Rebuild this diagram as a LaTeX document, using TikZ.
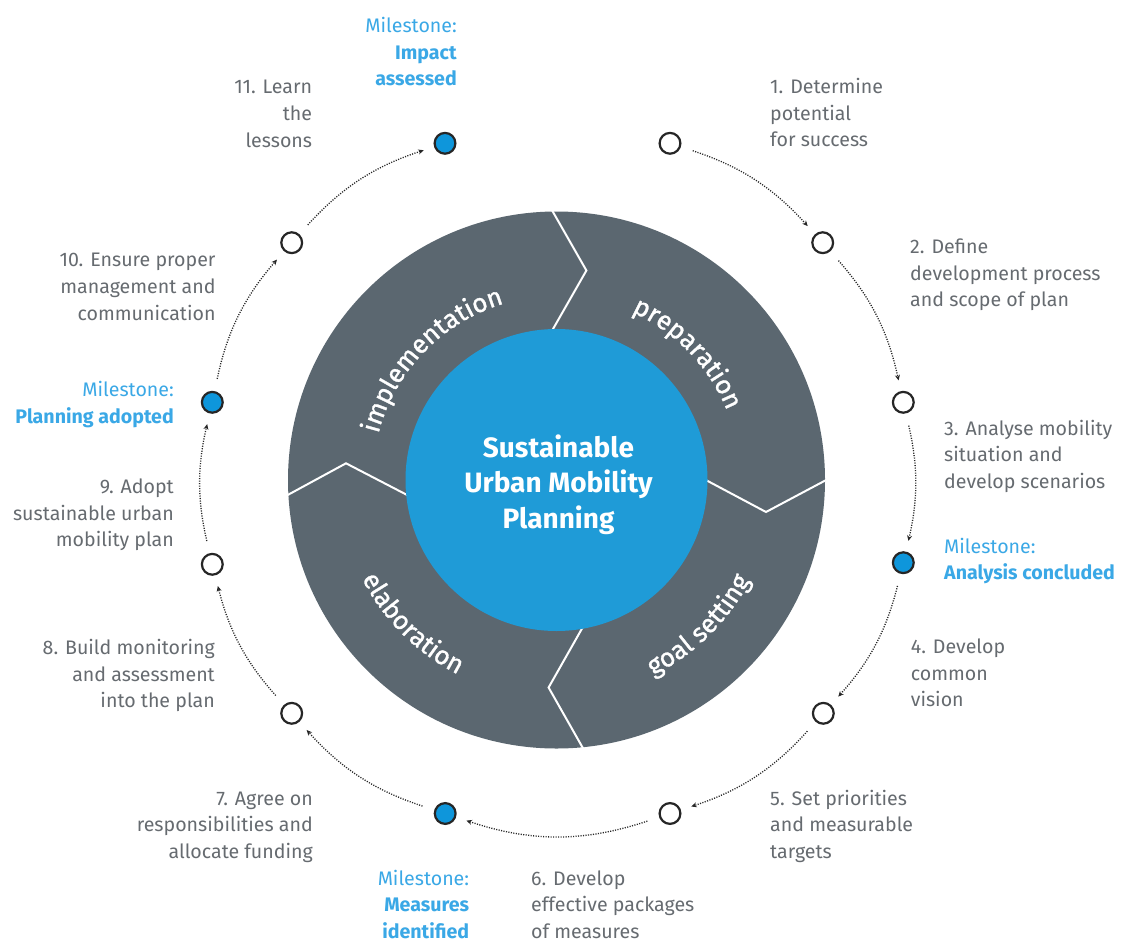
\documentclass[tikz,border=0pt]{standalone}
\usepackage{fontspec}
\setmainfont{Fira Sans}
\newfontfamily\phasefamily{Fira Sans}[FakeBold=1.2]
\usetikzlibrary{arrows.meta,decorations.text}

\definecolor{ringgray}{HTML}{5B6770}
\definecolor{hubblue}{HTML}{1F9BD7}
\definecolor{dotblue}{HTML}{0E96DB}
\definecolor{stoneblue}{HTML}{3AA8E6}
\definecolor{labelgray}{HTML}{666B70}
\definecolor{dotline}{HTML}{262626}

\newcommand\labelfont{\fontsize{19.6}{26.7}\selectfont}
\newcommand\phasefont{\phasefamily\fontsize{26}{30}\selectfont}
\newcommand\hubfont{\fontsize{28}{35.5}\selectfont\bfseries}

\tikzset{
  stepdot/.style={circle, draw=dotline, line width=2.2pt, fill=white,
    minimum size=20.8pt, inner sep=0pt, outer sep=1pt},
  stonedot/.style={stepdot, fill=dotblue},
  flow/.style={draw=dotline, line width=1.3pt, dash pattern=on 1.1pt off 1.4pt,
    -{Stealth[length=5.5pt,width=5pt]}, shorten >=11pt, shorten <=12.5pt},
  steplabel/.style={text=labelgray, font=\labelfont, inner sep=0pt},
  stonelabel/.style={text=stoneblue, font=\labelfont, inner sep=0pt},
  divider/.style={draw=white, line width=2pt},
  phase/.style={decorate, decoration={text along path, text align=center,
    text color=white, text={|\phasefont|#1}}},
}

\begin{document}
\begin{tikzpicture}[x=1pt, y=1pt]
  \fill[white] (0,-939) rectangle (1126,0);
  \useasboundingbox (0,-939) rectangle (1126,0);

  \coordinate (C) at (556.5,-480);

  % phase ring
  \fill[ringgray] (C) circle[radius=268.5];
  \draw[divider] (551.3,-209) -- (586.4,-270.5) -- (551.3,-332);
  \draw[divider] (829,-478.5) -- (766,-512) -- (703,-478.5);
  \draw[divider] (584,-750) -- (548.6,-687.5) -- (584,-625);
  \draw[divider] (284,-497) -- (346,-463.3) -- (411,-497);

  % phase names
  \path[phase={implementation}] ([shift={(176:184)}]C) arc[start angle=176, end angle=96, radius=184];
  \path[phase={preparation}] ([shift={(84:184)}]C) arc[start angle=84, end angle=4, radius=184];
  \path[phase={goal setting}] ([shift={(-85.6:218)}]C) arc[start angle=-85.6, end angle=-5.6, radius=218];
  \path[phase={elaboration}] ([shift={(185:218)}]C) arc[start angle=185, end angle=265, radius=218];

  % hub
  \node[circle, fill=hubblue, minimum size=302pt, inner sep=0pt] (hub) at (C) {};
  \node[anchor=base, text=white, font=\hubfont, align=center, inner sep=0pt]
    (hubtext) at (558.5,-528) {Sustainable\\Urban Mobility\\Planning};

  % cycle of steps and milestones
  \node[stonedot] (mT)  at (445,-143.3) {};
  \node[stepdot]  (d1)  at (670,-143.3) {};
  \node[stepdot]  (d2)  at (822.7,-242.7) {};
  \node[stepdot]  (d3)  at (903.3,-402.3) {};
  \node[stonedot] (mR)  at (903.3,-562.7) {};
  \node[stepdot]  (d4)  at (823.3,-713.3) {};
  \node[stepdot]  (d5)  at (670,-813.5) {};
  \node[stonedot] (mB)  at (445.2,-813.5) {};
  \node[stepdot]  (d7)  at (291.7,-713.3) {};
  \node[stepdot]  (d9)  at (212.3,-564.3) {};
  \node[stonedot] (mL)  at (212.3,-402.3) {};
  \node[stepdot]  (d10) at (291.7,-242.7) {};

  \draw[flow] (d1)  to[bend left=14.9] (d2);
  \draw[flow] (d2)  to[bend left=14.6] (d3);
  \draw[flow] (d3)  to[bend left=13.1] (mR);
  \draw[flow] (mR)  to[bend left=13.9] (d4);
  \draw[flow] (d4)  to[bend left=15]   (d5);
  \draw[flow] (d5)  to[bend left=18.5] (mB);
  \draw[flow] (mB)  to[bend left=15]   (d7);
  \draw[flow] (d7)  to[bend left=13.8] (d9);
  \draw[flow] (d9)  to[bend left=13.2] (mL);
  \draw[flow] (mL)  to[bend left=14.6] (d10);
  \draw[flow] (d10) to[bend left=14.9] (mT);

  % step texts (placed by the baseline of their last line)
  \node[steplabel, anchor=base west, align=left] (s1) at (770,-146.7)
    {1. Determine\\potential\\for success};
  \node[steplabel, anchor=base west, align=left] (s2) at (910,-306.7)
    {2. Define\\development process\\and scope of plan};
  \node[steplabel, anchor=base west, align=left] (s3) at (944,-488.4)
    {3. Analyse mobility\\situation and\\develop scenarios};
  \node[steplabel, anchor=base west, align=left] (s4) at (910.7,-706.7)
    {4. Develop\\common\\vision};
  \node[steplabel, anchor=base west, align=left] (s5) at (770,-858.4)
    {5. Set priorities\\and measurable\\targets};
  \node[steplabel, anchor=base west, align=left] (s6) at (531,-938.4)
    {6. Develop\\effective packages\\of measures};
  \node[steplabel, anchor=base east, align=right] (s7) at (313,-858.4)
    {7. Agree on\\responsibilities and\\allocate funding};
  \node[steplabel, anchor=base east, align=right] (s8) at (215,-707.7)
    {8. Build monitoring\\and assessment\\into the plan};
  \node[steplabel, anchor=base east, align=right] (s9) at (174,-546.7)
    {9. Adopt\\sustainable urban\\mobility plan};
  \node[steplabel, anchor=base east, align=right] (s10) at (215.7,-320.1)
    {10. Ensure proper\\management and\\communication};
  \node[steplabel, anchor=base east, align=right] (s11) at (312.3,-147)
    {11. Learn\\the\\lessons};

  % milestone texts
  \node[stonelabel, anchor=base east, align=right] (t1) at (457,-86)
    {Milestone:\\\textbf{Impact}\\\textbf{assessed}};
  \node[stonelabel, anchor=base west, align=left] (t2) at (944,-579.7)
    {Milestone:\\\textbf{Analysis concluded}};
  \node[stonelabel, anchor=base east, align=right] (t3) at (469.3,-938.4)
    {Milestone:\\\textbf{Measures}\\\textbf{identified}};
  \node[stonelabel, anchor=base east, align=right] (t4) at (174,-423.4)
    {Milestone:\\\textbf{Planning adopted}};
\end{tikzpicture}
\end{document}
